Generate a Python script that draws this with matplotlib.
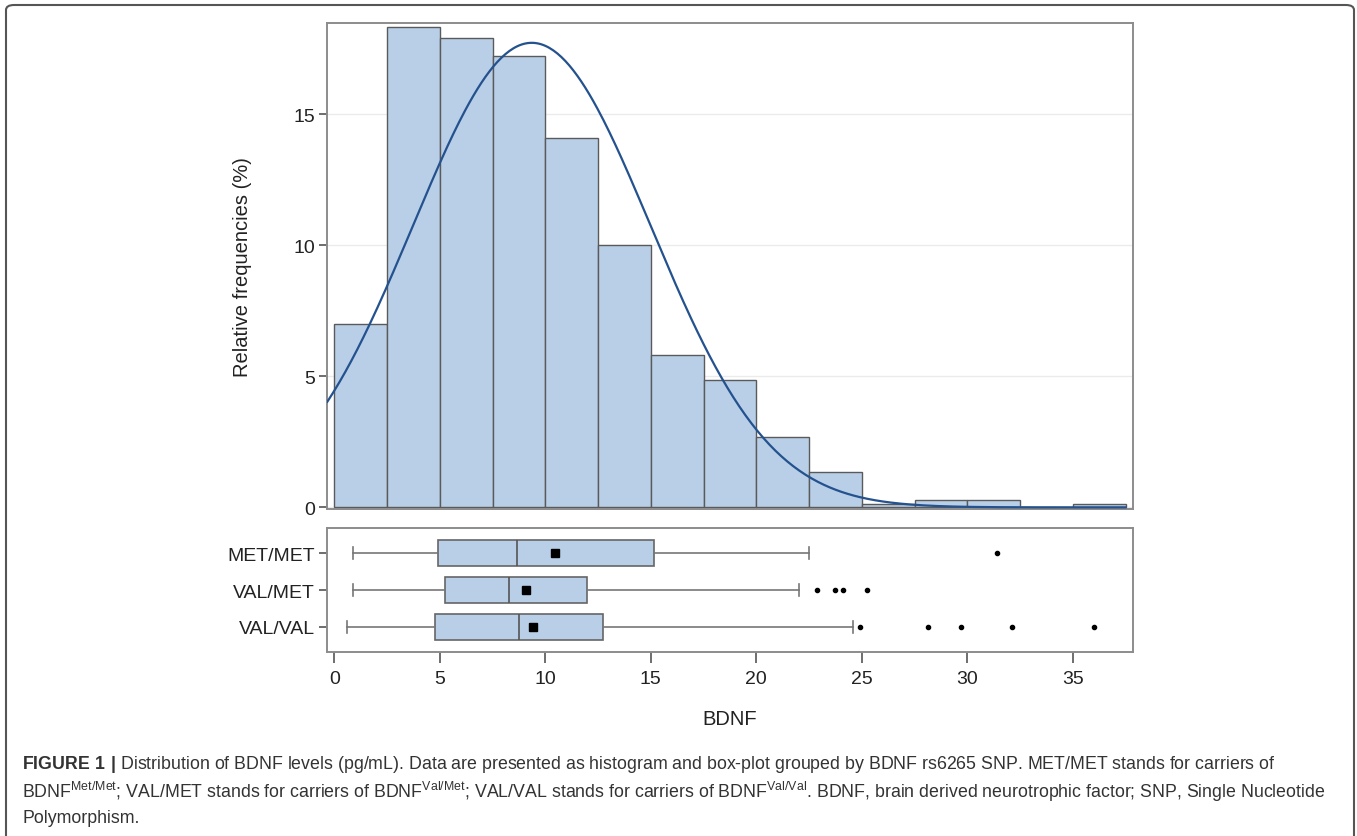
import numpy as np
import matplotlib
matplotlib.use('Agg')
import matplotlib.pyplot as plt
from matplotlib.patches import FancyBboxPatch

# histogram of BDNF (relative frequencies, %)
bin_edges = np.arange(0, 37.5 + 0.01, 2.5)
rel_freq = [7.0, 18.3, 17.9, 17.2, 14.1, 10.0, 5.8, 4.85, 2.7, 1.34,
            0.14, 0.28, 0.28, 0.0, 0.13]

# fitted normal curve parameters
fit_mean = 9.36
fit_sd = 5.63

# box plot per genotype
groups = ['MET/MET', 'VAL/MET', 'VAL/VAL']
whis_lo = [0.87, 0.87, 0.59]
q1 = [4.93, 5.25, 4.77]
median = [8.67, 8.28, 8.77]
mean = [10.46, 9.09, 9.43]
q3 = [15.15, 11.99, 12.75]
whis_hi = [22.5, 22.04, 24.6]
outliers = [[31.39],
            [22.86, 23.73, 24.13, 25.23],
            [24.91, 28.15, 29.7, 32.1, 36.02]]

x_ticks = [0, 5, 10, 15, 20, 25, 30, 35]
y_ticks = [0, 5, 10, 15]

plt.rcParams['font.family'] = ['Liberation Sans', 'DejaVu Sans']
plt.rcParams['mathtext.fontset'] = 'custom'
plt.rcParams['mathtext.rm'] = 'Liberation Sans'
plt.rcParams['mathtext.bf'] = 'Liberation Sans:bold'

bar_color = '#b9cfe7'
edge_color = '#5a5a5a'
spine_color = '#8c8c8c'
curve_color = '#24528f'
label_size = 14

fig = plt.figure(figsize=(13.57, 8.37), dpi=100)

# outer frame
frame = FancyBboxPatch((6 / 1357, -0.05), 1348 / 1357, 1.05 - 6 / 837,
                       boxstyle='round,pad=0,rounding_size=0.006',
                       transform=fig.transFigure, fill=False,
                       edgecolor='#555555', linewidth=1.5)
fig.patches.append(frame)

ax = fig.add_axes([0.2412, 0.3901, 0.5935, 0.5812])
axb = fig.add_axes([0.2412, 0.2202, 0.5935, 0.1474])

for a in (ax, axb):
    for s in a.spines.values():
        s.set_color(spine_color)
        s.set_linewidth(1.4)
    a.set_xlim(-0.33, 37.84)
    a.tick_params(colors='#555555', labelcolor='#222222', labelsize=label_size,
                  length=6, width=1.2, pad=3)

# histogram
ax.bar(bin_edges[:-1], rel_freq, width=2.5, align='edge', color=bar_color,
       edgecolor=edge_color, linewidth=1.0, zorder=2)
xs = np.linspace(-0.33, 37.5, 400)
dens = 100 * 2.5 / (fit_sd * np.sqrt(2 * np.pi)) * np.exp(-(xs - fit_mean) ** 2 / (2 * fit_sd ** 2))
ax.plot(xs, dens, color=curve_color, linewidth=1.6, zorder=3)
ax.set_ylim(-0.08, 18.47)
ax.set_yticks(y_ticks)
ax.set_xticks([])
ax.grid(axis='y', color='#ebebeb', linewidth=1.0, zorder=0)
ax.set_axisbelow(True)
ax.set_ylabel('Relative frequencies (%)', fontsize=label_size + 0.5, color='#222222')
ax.yaxis.set_label_coords(-0.094, 0.5)

# box plot
stats = []
for i, g in enumerate(groups):
    stats.append({'label': g, 'whislo': whis_lo[i], 'q1': q1[i], 'med': median[i],
                  'mean': mean[i], 'q3': q3[i], 'whishi': whis_hi[i],
                  'fliers': outliers[i]})
axb.bxp(stats, positions=[0, 1, 2], widths=0.71, orientation='horizontal',
        showmeans=True, patch_artist=True, capwidths=0.32,
        boxprops=dict(facecolor=bar_color, edgecolor='#666666', linewidth=1.2),
        medianprops=dict(color='#555555', linewidth=1.2),
        whiskerprops=dict(color='#777777', linewidth=1.2),
        capprops=dict(color='#777777', linewidth=1.2),
        meanprops=dict(marker='s', markerfacecolor='black', markeredgecolor='black',
                       markersize=5.5),
        flierprops=dict(marker='o', markerfacecolor='black', markeredgecolor='black',
                        markersize=3))
axb.set_ylim(2.68, -0.68)
axb.set_yticks([0, 1, 2])
axb.set_yticklabels(groups)
axb.set_xticks(x_ticks)
axb.tick_params(axis='x', length=8, pad=5)
axb.set_xlabel('BDNF', fontsize=label_size + 0.5, color='#222222', labelpad=16)

# caption
cap_size = 12.8
fig.text(22 / 1357, 1 - 765 / 837,
         r'$\mathbf{FIGURE\ 1\ |}$ Distribution of BDNF levels (pg/mL). Data are presented as '
         'histogram and box-plot grouped by BDNF rs6265 SNP. MET/MET stands for carriers of',
         fontsize=cap_size, va='center', color='#333333')
fig.text(22 / 1357, 1 - 792 / 837,
         r'BDNF$^{\mathrm{Met/Met}}$; VAL/MET stands for carriers of BDNF$^{\mathrm{Val/Met}}$; '
         r'VAL/VAL stands for carriers of BDNF$^{\mathrm{Val/Val}}$. BDNF, brain derived '
         'neurotrophic factor; SNP, Single Nucleotide',
         fontsize=cap_size, va='center', color='#333333')
fig.text(22 / 1357, 1 - 819 / 837, 'Polymorphism.',
         fontsize=cap_size, va='center', color='#333333')

fig.savefig('out.png', dpi=100)
